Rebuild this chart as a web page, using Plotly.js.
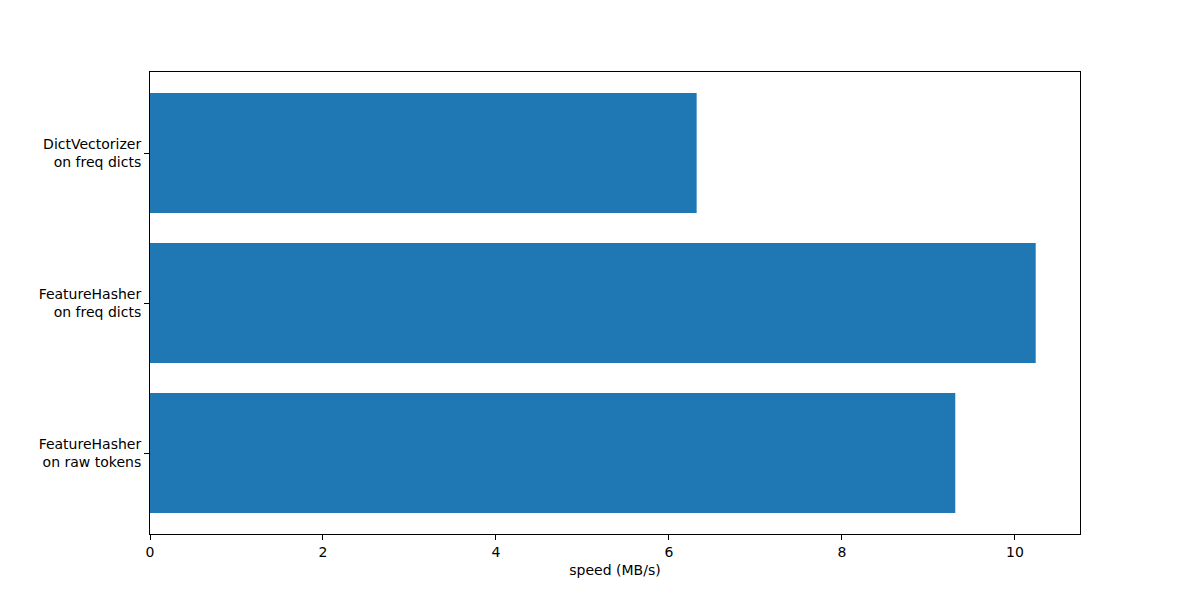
<!DOCTYPE html>
<html>
<head>
<meta charset="utf-8">
<script src="https://cdn.plot.ly/plotly-3.0.1.min.js"></script>
<style>
  html, body { margin: 0; padding: 0; background: #fff; }
  #chart { width: 1200px; height: 600px; }
</style>
</head>
<body>
<div id="chart"></div>
<script>
// bottom to top, as matplotlib barh draws them
const categories = [
    "FeatureHasher<br>on raw tokens",
    "FeatureHasher<br>on freq dicts",
    "DictVectorizer<br>on freq dicts",
];
const speeds = [9.31, 10.24, 6.32];
const xTicks = [0, 2, 4, 6, 8, 10];

const positions = categories.map((_, i) => i);
const xMax = Math.max(...speeds) * 1.05;

const trace = {
    type: "bar",
    orientation: "h",
    x: speeds,
    y: positions,
    width: 0.8,
    marker: { color: "#1f77b4" },
    hoverinfo: "x",
};

const axisCommon = {
    showgrid: false,
    zeroline: false,
    showline: true,
    mirror: true,
    linecolor: "#000",
    linewidth: 1,
    ticks: "outside",
    ticklen: 5,
    tickwidth: 1,
    tickcolor: "#000",
    tickfont: { size: 14, color: "#000" },
};

const layout = {
    width: 1200,
    height: 600,
    paper_bgcolor: "#fff",
    plot_bgcolor: "#fff",
    font: { family: "DejaVu Sans, sans-serif", color: "#000", size: 14 },
    margin: { l: 150, r: 120, t: 72, b: 66 },
    showlegend: false,
    xaxis: Object.assign({}, axisCommon, {
        range: [0, xMax],
        tickvals: xTicks,
        ticktext: xTicks.map(String),
        title: { text: "speed (MB/s)", font: { size: 14 }, standoff: 6 },
    }),
    yaxis: Object.assign({}, axisCommon, {
        range: [-0.54, 2.54],
        tickvals: positions,
        ticktext: categories,
    }),
};

Plotly.newPlot("chart", [trace], layout, { displayModeBar: false, staticPlot: true });
</script>
</body>
</html>
